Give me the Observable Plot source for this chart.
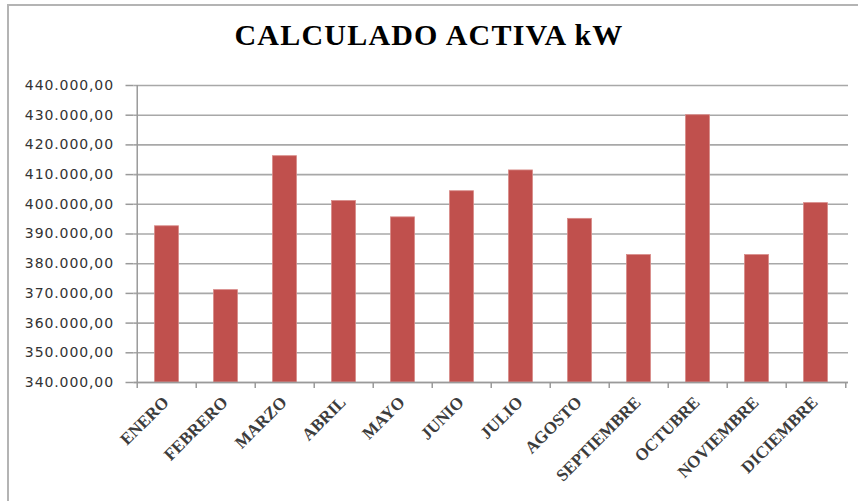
<!DOCTYPE html>
<html><head><meta charset="utf-8">
<script src="https://cdn.jsdelivr.net/npm/d3@7"></script>
<script src="https://cdn.jsdelivr.net/npm/@observablehq/plot@0.6"></script>
<style>
body{margin:0;background:#fff;}
#wrap{position:relative;width:858px;height:501px;overflow:hidden;background:#fff;}
#frame{position:absolute;left:7px;top:4px;right:-4px;bottom:-4px;border-top:2px solid #b4b4b4;border-left:2px solid #b4b4b4;}
#title{position:absolute;left:0;width:858px;top:20px;text-align:center;font-family:"Liberation Serif",serif;font-weight:bold;font-size:30px;letter-spacing:1.2px;color:#000;line-height:30px;}
#chart{position:absolute;left:0;top:0;}
#chart g[aria-label="y-axis tick label"] text{letter-spacing:0.9px;}
</style></head><body>
<div id="wrap"><div id="frame"></div><div id="chart"></div><div id="title">CALCULADO ACTIVA kW</div></div>
<script>
const months = ["ENERO","FEBRERO","MARZO","ABRIL","MAYO","JUNIO","JULIO","AGOSTO","SEPTIEMBRE","OCTUBRE","NOVIEMBRE","DICIEMBRE"];
const values = [392600, 371100, 416200, 401100, 395600, 404400, 411400, 395100, 382900, 430000, 382900, 400400];
const yTicks = [340000, 350000, 360000, 370000, 380000, 390000, 400000, 410000, 420000, 430000, 440000];

const W = 858, H = 501, mL = 133.5, mR = 10, mT = 85, mB = 119;
const step = (W - mL - mR) / months.length;
const fmt = d3.formatLocale({decimal: ",", thousands: ".", grouping: [3], currency: ["", ""]}).format(",.2f");
const data = months.map((m, i) => ({month: m, value: values[i]}));
const axisGray = "#9a9a9a";

const chart = Plot.plot({
  width: W, height: H,
  marginLeft: mL, marginRight: mR, marginTop: mT, marginBottom: mB,
  style: {background: "transparent", overflow: "visible"},
  x: {domain: months, padding: 0, label: null},
  y: {domain: [340000, 440000], label: null},
  marks: [
    Plot.gridY(yTicks, {stroke: "#a8a8a8", strokeOpacity: 1, strokeWidth: 1.6}),
    Plot.barY(data, {x: "month", y1: 340000, y2: "value", fill: "#c0504d", stroke: "#d88a88", strokeWidth: 0.8, insetLeft: 17.5, insetRight: 17.5}),
    Plot.ruleY([340000], {stroke: axisGray, strokeWidth: 1.5}),
    Plot.ruleX([months[0]], {dx: -step / 2, y1: 340000, y2: 440000, stroke: axisGray, strokeWidth: 1.5}),
    Plot.ruleX(months, {dx: -step / 2, y1: 340000, y2: 340000, insetBottom: -6, stroke: axisGray, strokeWidth: 1.5}),
    Plot.ruleX([months[months.length - 1]], {dx: step / 2, y1: 340000, y2: 340000, insetBottom: -6, stroke: axisGray, strokeWidth: 1.5}),
    Plot.axisY(yTicks, {label: null, tickSize: 8, tickPadding: 12, tickFormat: fmt, fontSize: 14, fontFamily: "DejaVu Sans", fill: "#333", stroke: axisGray, strokeWidth: 1.5}),
    Plot.axisX({label: null, tickSize: 0, tickPadding: 17, tickRotate: -45, dx: -1, fontSize: 17, fontFamily: "Liberation Serif", fontWeight: "bold", fill: "#3c3c3c"})
  ]
});
document.getElementById("chart").appendChild(chart);
</script>
</body></html>
